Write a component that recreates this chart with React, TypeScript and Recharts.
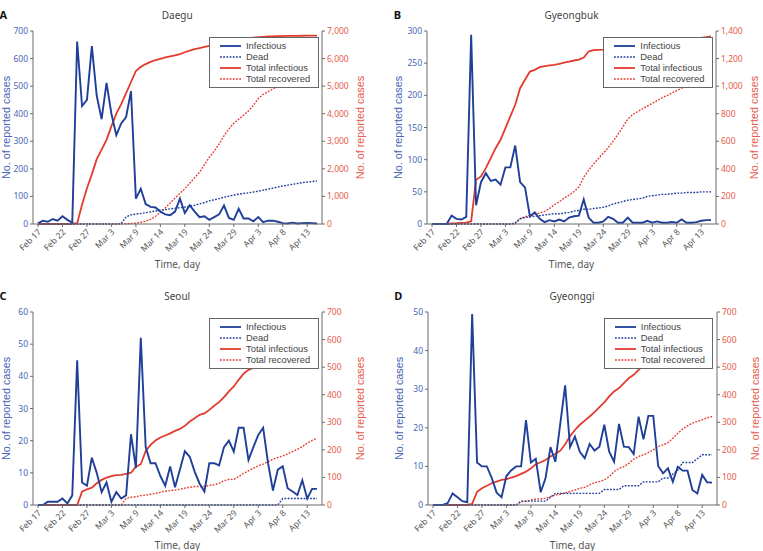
import React from 'react';
import { LineChart, Line, XAxis, YAxis } from 'recharts';

const FONT = '"Noto Sans", "DejaVu Sans", sans-serif';
const LABEL_FONT = '"Liberation Sans", Arial, sans-serif';
const BLUE = '#1f3f98';
const RED = '#e33b2e';
const BLUE_TEXT = '#4864b6';
const RED_TEXT = '#e65a4d';
const AXIS = '#6b6b6b';

// day index 0 = Feb 17 ... 57 = Apr 15, labels every 5 points
const DAYS = Array.from({ length: 58 }, (_, i) => i);
const TICK_LABELS = ['Feb 17', 'Feb 22', 'Feb 27', 'Mar 3', 'Mar 9', 'Mar 14', 'Mar 19', 'Mar 24', 'Mar 29', 'Apr 3', 'Apr 8', 'Apr 13'];
const TICK_DAYS = [0, 5, 10, 15, 20, 25, 30, 35, 40, 45, 50, 55];

// Daegu
const daeguInfectious = [2, 12, 8, 18, 12, 28, 15, 5, 662, 428, 450, 645, 465, 380, 512, 400, 322, 365, 388, 482, 92, 128, 72, 62, 60, 45, 35, 32, 45, 92, 40, 68, 45, 25, 28, 15, 25, 35, 67, 22, 15, 55, 20, 20, 10, 25, 7, 12, 12, 8, 3, 2, 5, 2, 3, 4, 3, 2];
const daeguDead = [0, 0, 0, 0, 0, 0, 0, 0, 0, 0, 0, 0, 0, 0, 0, 0, 0, 2, 26, 33, 36, 38, 41, 44, 47, 50, 52, 55, 57, 59, 61, 64, 68, 73, 78, 84, 88, 92, 97, 101, 105, 108, 111, 113, 116, 119, 123, 126, 130, 134, 138, 141, 144, 147, 150, 152, 154, 156];
const daeguTotal = [0, 0, 0, 0, 0, 0, 0, 10, 30, 700, 1300, 1800, 2350, 2700, 3050, 3550, 4000, 4350, 4750, 5150, 5550, 5700, 5800, 5880, 5940, 5990, 6040, 6080, 6120, 6160, 6230, 6290, 6340, 6380, 6420, 6460, 6490, 6540, 6580, 6620, 6660, 6690, 6720, 6740, 6760, 6780, 6790, 6800, 6805, 6810, 6815, 6820, 6822, 6825, 6828, 6830, 6832, 6834];
const daeguRecovered = [0, 0, 0, 0, 0, 0, 0, 0, 0, 0, 0, 0, 0, 0, 0, 0, 0, 0, 10, 20, 30, 60, 100, 170, 280, 420, 580, 760, 940, 1110, 1280, 1480, 1680, 1880, 2150, 2420, 2650, 2900, 3200, 3450, 3650, 3800, 3950, 4100, 4300, 4550, 4700, 4800, 4900, 5000, 5080, 5180, 5260, 5340, 5420, 5500, 5560, 5620];

// Gyeongbuk
const gbInfectious = [0, 0, 0, 0, 13, 8, 7, 11, 294, 29, 65, 79, 67, 69, 61, 88, 88, 122, 65, 57, 12, 18, 8, 3, 6, 4, 7, 4, 10, 12, 13, 38, 10, 2, 2, 4, 11, 8, 2, 2, 10, 2, 2, 2, 5, 2, 4, 2, 2, 3, 2, 7, 2, 2, 3, 5, 6, 6];
const gbDead = [0, 0, 0, 0, 0, 0, 0, 0, 0, 0, 0, 0, 0, 0, 0, 0, 0, 2, 8, 10, 11, 12, 13, 14, 15, 16, 16, 17, 18, 20, 21, 23, 23, 24, 25, 26, 28, 31, 33, 35, 37, 38, 39, 40, 43, 44, 45, 46, 46, 47, 48, 48, 49, 49, 49, 50, 50, 50];
const gbTotal = [0, 0, 0, 0, 5, 6, 8, 10, 20, 320, 345, 405, 478, 550, 611, 696, 780, 865, 985, 1046, 1106, 1118, 1138, 1145, 1150, 1155, 1162, 1171, 1178, 1186, 1193, 1208, 1251, 1261, 1263, 1265, 1268, 1272, 1276, 1280, 1285, 1290, 1295, 1300, 1305, 1310, 1314, 1318, 1322, 1326, 1330, 1334, 1338, 1342, 1346, 1350, 1355, 1360];
const gbRecovered = [0, 0, 0, 0, 0, 0, 0, 0, 0, 0, 0, 0, 0, 0, 0, 0, 0, 0, 40, 52, 62, 70, 80, 92, 112, 140, 162, 188, 210, 235, 268, 340, 390, 435, 475, 513, 555, 600, 650, 705, 760, 795, 815, 835, 855, 875, 895, 915, 932, 950, 968, 985, 1005, 1020, 1035, 1050, 1065, 1080];

// Seoul
const seoulInfectious = [0, 0, 1, 1, 1, 2, 0.5, 3, 45, 7, 6, 14.7, 10, 4, 7, 1, 4, 2, 3, 22, 11.5, 52, 18, 13, 13, 9, 6, 12, 5.5, 11, 16.7, 15, 10.4, 6.7, 4.2, 13, 13, 12.3, 18, 20, 16.6, 24, 24, 14, 18, 21.8, 24, 13, 4.5, 11, 12, 5.2, 4.2, 3.1, 7.7, 2, 5, 5];
const seoulDead = [0, 0, 0, 0, 0, 0, 0, 0, 0, 0, 0, 0, 0, 0, 0, 0, 0, 0, 0, 0, 0, 0, 0, 0, 0, 0, 0, 0, 0, 0, 0, 0, 0, 0, 0, 0, 0, 0, 0, 0, 0, 0, 0, 0, 0, 0, 0, 0, 0, 0, 2, 2, 2, 2, 2, 2, 2, 2];
const seoulTotal = [0, 0, 0, 0, 0, 0, 0, 0, 0, 48, 57, 63, 79, 91, 99, 105, 108, 109, 113, 117, 139, 148, 196, 218, 234, 245, 252, 260, 269, 276, 287, 303, 315, 327, 332, 345, 360, 373, 391, 412, 430, 454, 476, 490, 497, 510, 522, 535, 548, 560, 570, 578, 588, 596, 603, 610, 616, 622];
const seoulRecovered = [0, 0, 0, 0, 0, 0, 0, 0, 0, 0, 0, 0, 0, 0, 0, 0, 0, 0, 24, 28, 30, 34, 36, 39, 42, 46, 50, 52, 54, 57, 61, 64, 67, 67, 67, 71, 73, 79, 88, 93, 93, 103, 115, 124, 133, 142, 148, 157, 166, 172, 178, 185, 194, 202, 212, 224, 234, 242];

// Gyeonggi
const ggInfectious = [0, 0, 0, 0.5, 3, 2, 1, 0.7, 49.5, 11, 10, 10, 7, 3.2, 2, 7.5, 9, 10, 10, 22, 11, 12, 3.3, 7, 15, 11.2, 21, 31, 15, 17.7, 13.8, 12.1, 15.8, 14.1, 15.1, 20.8, 13.8, 11.2, 21, 15.1, 15, 13.2, 22.9, 17, 23.1, 23.1, 10.1, 8.2, 9.5, 6, 9.9, 8.9, 8.9, 3.9, 3, 7.8, 5.9, 5.8];
const ggDead = [0, 0, 0, 0, 0, 0, 0, 0, 0, 0, 0, 0, 0, 0, 0, 0, 0, 0, 1, 1, 1, 1, 1, 1, 2, 3, 3, 3, 3, 3, 3, 3, 3, 3, 3, 4, 4, 4, 4, 5, 5, 5, 5, 6, 6, 6, 6, 7, 7, 8, 9, 11, 11, 11, 12, 13, 13, 13];
const ggTotal = [0, 0, 0, 0, 0, 0, 0, 0, 4, 48, 61, 70, 79, 85, 91, 94, 99, 105, 113, 121, 133, 148, 155, 163, 176, 185, 197, 220, 250, 272, 291, 306, 321, 337, 355, 372, 394, 412, 424, 442, 460, 472, 490, 506, 520, 532, 545, 556, 566, 576, 585, 594, 602, 610, 618, 626, 633, 640];
const ggRecovered = [0, 0, 0, 0, 0, 0, 0, 0, 0, 0, 0, 0, 0, 0, 0, 0, 0, 0, 12, 13, 18, 21, 22, 24, 30, 36, 39, 44, 49, 54, 61, 64, 73, 81, 85, 91, 103, 121, 133, 139, 151, 166, 176, 182, 190, 200, 212, 218, 226, 242, 260, 275, 287, 297, 303, 309, 316, 321];

const range = (max: number, step: number) => Array.from({ length: max / step + 1 }, (_, i) => i * step);

const PANELS = [
  { letter: 'A', title: 'Daegu', left: -14.3, top: 0, labelOffset: 20.6, inf: daeguInfectious, dead: daeguDead, total: daeguTotal, rec: daeguRecovered, lMax: 700, lStep: 100, rMax: 7000, rStep: 1000 },
  { letter: 'B', title: 'Gyeongbuk', left: 380, top: 0, labelOffset: 17.7, inf: gbInfectious, dead: gbDead, total: gbTotal, rec: gbRecovered, lMax: 300, lStep: 50, rMax: 1400, rStep: 200 },
  { letter: 'C', title: 'Seoul', left: -14.3, top: 281.3, labelOffset: 20.6, inf: seoulInfectious, dead: seoulDead, total: seoulTotal, rec: seoulRecovered, lMax: 60, lStep: 10, rMax: 700, rStep: 100 },
  { letter: 'D', title: 'Gyeonggi', left: 380.5, top: 281.3, labelOffset: 17.7, inf: ggInfectious, dead: ggDead, total: ggTotal, rec: ggRecovered, lMax: 50, lStep: 10, rMax: 700, rStep: 100 },
];

const DateTick = (props: any) => {
  const { x, y, payload } = props;
  return (
    <text x={x} y={y} dy="0.6em" transform={`rotate(-45, ${x}, ${y})`} textAnchor="end" fontSize={8.5} fill="#555" fontFamily={FONT}>
      {TICK_LABELS[TICK_DAYS.indexOf(payload.value)]}
    </text>
  );
};

const LEGEND_ITEMS = [
  { name: 'Infectious', color: BLUE, dash: undefined },
  { name: 'Dead', color: BLUE, dash: '1.8 1.4' },
  { name: 'Total infectious', color: RED, dash: undefined },
  { name: 'Total recovered', color: RED, dash: '1.8 1.4' },
];

const LegendBox = () => (
  <div style={{ position: 'absolute', left: 223.3, top: 36.7, width: 109.5, height: 51, boxSizing: 'border-box', border: '1px solid #666', background: '#fff', paddingTop: 2.5, fontFamily: LABEL_FONT }}>
    {LEGEND_ITEMS.map(it => (
      <div key={it.name} style={{ display: 'flex', alignItems: 'center', height: 11 }}>
        <svg width={21} height={4} style={{ marginLeft: 10 }}>
          <line x1={0} y1={2} x2={21} y2={2} stroke={it.color} strokeWidth={it.dash ? 1.4 : 1.8} strokeDasharray={it.dash} />
        </svg>
        <span style={{ display: 'inline-block', height: 11, marginLeft: 5, fontSize: 9.4, color: '#444', lineHeight: '11px', whiteSpace: 'nowrap' }}>{it.name}</span>
      </div>
    ))}
  </div>
);

const Panel = (p: any) => {
  const data = DAYS.map((d, i) => ({ d, inf: p.inf[i], dead: p.dead[i], total: p.total[i], rec: p.rec[i] }));
  return (
    <div style={{ position: 'absolute', left: p.left, top: p.top, width: 396, height: 275 }}>
      <LineChart width={396} height={275} data={data} margin={{ top: 31, right: 10, bottom: 3, left: 0 }}>
        <XAxis
          dataKey="d"
          type="number"
          domain={[0, 57]}
          ticks={TICK_DAYS}
          interval={0}
          padding={{ left: 5, right: 5 }}
          height={48}
          tickSize={3}
          tickMargin={2}
          stroke={AXIS}
          tick={<DateTick />}
          label={{ value: 'Time, day', position: 'insideBottom', offset: 4, fill: '#555', fontSize: 10, fontFamily: FONT }}
        />
        <YAxis
          yAxisId="l"
          orientation="left"
          width={47}
          domain={[0, p.lMax]}
          ticks={range(p.lMax, p.lStep)}
          interval={0}
          tickSize={3}
          tickMargin={2}
          stroke={AXIS}
          tick={{ fill: BLUE_TEXT, fontSize: 8.5, fontFamily: FONT }}
          label={{ value: 'No. of reported cases', angle: -90, position: 'insideLeft', offset: p.labelOffset, fill: BLUE_TEXT, fontSize: 10.8, fontFamily: LABEL_FONT, style: { textAnchor: 'middle' } }}
        />
        <YAxis
          yAxisId="r"
          orientation="right"
          width={50}
          domain={[0, p.rMax]}
          ticks={range(p.rMax, p.rStep)}
          interval={0}
          tickSize={3}
          tickMargin={2}
          stroke={AXIS}
          tickFormatter={(v: number) => v.toLocaleString('en-US')}
          tick={{ fill: RED_TEXT, fontSize: 8.5, fontFamily: FONT }}
          label={{ value: 'No. of reported cases', angle: -90, position: 'insideRight', offset: 12, fill: RED_TEXT, fontSize: 10.8, fontFamily: LABEL_FONT, style: { textAnchor: 'middle' } }}
        />
        <Line yAxisId="r" dataKey="total" stroke={RED} strokeWidth={1.8} dot={false} isAnimationActive={false} />
        <Line yAxisId="r" dataKey="rec" stroke={RED} strokeWidth={1.4} strokeDasharray="1.8 1.4" dot={false} isAnimationActive={false} />
        <Line yAxisId="l" dataKey="dead" stroke={BLUE} strokeWidth={1.4} strokeDasharray="1.8 1.4" dot={false} isAnimationActive={false} />
        <Line yAxisId="l" dataKey="inf" stroke={BLUE} strokeWidth={1.9} dot={false} isAnimationActive={false} />
      </LineChart>
      <LegendBox />
      <div style={{ position: 'absolute', left: 91.5, width: 200, top: 7, textAlign: 'center', fontSize: 10, lineHeight: '16px', color: '#444' }}>{p.title}</div>
      <div style={{ position: 'absolute', left: 13.8, top: 7, fontSize: 11, fontWeight: 'bold', lineHeight: '16px', color: '#111' }}>{p.letter}</div>
    </div>
  );
};

export default function App() {
  return (
    <div style={{ position: 'absolute', left: 0, top: 0, width: 763, height: 551, overflow: 'hidden', background: '#fff', fontFamily: FONT }}>
      {PANELS.map(p => <Panel key={p.letter} {...p} />)}
    </div>
  );
}
